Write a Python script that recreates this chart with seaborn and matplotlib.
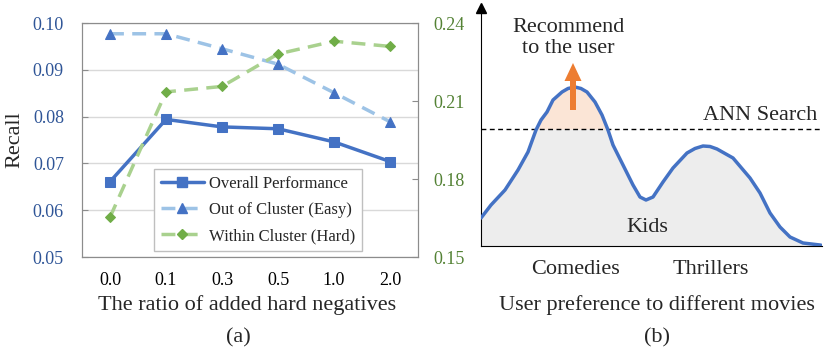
import numpy as np
import pandas as pd
import seaborn as sns
import matplotlib.pyplot as plt
from matplotlib.lines import Line2D

# ---- data ----
ratios = ['0.0', '0.1', '0.3', '0.5', '1.0', '2.0']
overall = [0.0661, 0.0794, 0.0778, 0.0774, 0.0746, 0.0704]
easy = [0.0977, 0.0977, 0.0945, 0.0912, 0.0851, 0.0789]
hard = [0.1653, 0.2135, 0.2156, 0.2281, 0.2330, 0.2310]

# schematic preference curve (b)
curve_x = [0, 10, 24, 37, 47, 55, 60, 66, 72, 81, 87, 94, 100, 106, 114, 121, 127, 132,
           142, 152, 159, 165, 172, 182, 192, 206, 214, 222, 229, 236, 252, 269, 279,
           289, 299, 309, 322, 339, 341]
curve_y = [28, 41, 56, 76, 94, 116, 126, 134, 146, 154, 157.5, 159, 157.5, 154, 144, 131,
           116, 101, 81, 61, 49, 46, 49, 64, 78, 93, 97.5, 100, 99.5, 97, 88, 68, 53,
           33, 19, 9, 3, 1, 0.5]
ann_level = 117
genres = ['Comedies', '', 'Thrillers']
genre_pos = [94, 165, 230]

BLUE = '#4472C4'
LIGHT_BLUE = '#9DC3E6'
GREEN = '#70AD47'
LIGHT_GREEN = '#A9D18E'
ORANGE = '#ED7D31'

sns.set_style('white')
plt.rcParams['font.family'] = ['Liberation Serif', 'DejaVu Serif']

fig = plt.figure(figsize=(8.3, 3.63), dpi=100)

# ---------------- (a) ----------------
ax = fig.add_axes([82 / 830, 1 - 257 / 363, 336 / 830, 234 / 363])
df = pd.DataFrame({'pos': np.arange(len(ratios)), 'overall': overall, 'easy': easy, 'hard': hard})

sns.lineplot(data=df, x='pos', y='overall', ax=ax, color=BLUE, lw=2.5,
             marker='s', markersize=6.5, markeredgecolor=BLUE, markerfacecolor=BLUE)
sns.lineplot(data=df, x='pos', y='easy', ax=ax, color=LIGHT_BLUE, lw=2.5,
             linestyle=(0, (4, 2.4)), marker='^', markersize=7,
             markeredgecolor=BLUE, markerfacecolor=BLUE)
ax.set_xlim(-0.5, 5.5)
ax.set_ylim(0.05, 0.10)
ax.set_yticks([0.05, 0.06, 0.07, 0.08, 0.09, 0.10])
ax.set_yticklabels([f'{v:.2f}' for v in [0.05, 0.06, 0.07, 0.08, 0.09, 0.10]])
ax.set_xticks(df['pos'], ratios)
ax.yaxis.grid(True, color='#d9d9d9', lw=1)
ax.set_xlabel('')
ax.set_ylabel('Recall', fontsize=16, labelpad=6)
ax.tick_params(axis='x', length=0, pad=11, labelsize=13, labelcolor='black')
ax.tick_params(axis='y', direction='in', length=4, color='#8c8c8c', pad=13,
               labelsize=13, labelcolor='#2F5597')
for s in ax.spines.values():
    s.set_color('#8c8c8c')

ax2 = ax.twinx()
sns.lineplot(data=df, x='pos', y='hard', ax=ax2, color=LIGHT_GREEN, lw=2.5,
             linestyle=(0, (4, 2.4)), marker='D', markersize=5.5,
             markeredgecolor=GREEN, markerfacecolor=GREEN)
ax2.set_ylim(0.15, 0.24)
ax2.set_yticks([0.15, 0.18, 0.21, 0.24])
ax2.set_yticklabels([f'{v:.2f}' for v in [0.15, 0.18, 0.21, 0.24]])
ax2.set_ylabel('')
ax2.tick_params(axis='y', direction='in', length=4, color='#8c8c8c', pad=11,
                labelsize=13, labelcolor='#548235')
for s in ax2.spines.values():
    s.set_color('#8c8c8c')

handles = [
    Line2D([], [], color=BLUE, lw=2.5, marker='s', markersize=6.5),
    Line2D([], [], color=LIGHT_BLUE, lw=2.5, linestyle=(0, (4, 2.4)), marker='^',
           markersize=7, markeredgecolor=BLUE, markerfacecolor=BLUE),
    Line2D([], [], color=LIGHT_GREEN, lw=2.5, linestyle=(0, (4, 2.4)), marker='D',
           markersize=5.5, markeredgecolor=GREEN, markerfacecolor=GREEN),
]
leg = ax2.legend(handles, ['Overall Performance', 'Out of Cluster (Easy)', 'Within Cluster (Hard)'],
                 loc='lower left', bbox_to_anchor=(0.214, 0.026), borderaxespad=0,
                 fontsize=12, frameon=True, fancybox=False, framealpha=1,
                 edgecolor='#bfbfbf', handlelength=2.6, handletextpad=0.3,
                 labelspacing=0.62, borderpad=0.4)
leg.get_frame().set_linewidth(1)

fig.text(247 / 830, 1 - 305 / 363, 'The ratio of added hard negatives', ha='center', va='center', fontsize=16)
fig.text(238 / 830, 1 - 338 / 363, '(a)', ha='center', va='center', fontsize=16)

# ---------------- (b) ----------------
bx = fig.add_axes([481 / 830, 1 - 246 / 363, 341 / 830, 238 / 363])
cx = np.array(curve_x, dtype=float)
cy = np.array(curve_y, dtype=float)
bx.fill_between(cx, 0, cy, color='#EDEDED', lw=0, zorder=1)
bx.fill_between(cx, ann_level, cy, where=cy >= ann_level, interpolate=True,
                color='#FBE5D6', lw=0, zorder=2)
sns.lineplot(x=cx, y=cy, ax=bx, sort=False, color=BLUE, lw=2.5, zorder=4)
bx.lines[-1].set_solid_joinstyle('round')
bx.axhline(ann_level, color='black', lw=1, linestyle=(0, (3.5, 2.5)), zorder=3)
bx.arrow(92, 136, 0, 47, width=6, head_width=17, head_length=18,
         length_includes_head=True, color=ORANGE, lw=0, zorder=5)

bx.set_xlim(0, 341)
bx.set_ylim(0, 238)
bx.set_yticks([])
bx.set_xticks(genre_pos, genres)
bx.tick_params(axis='x', direction='inout', length=14, width=1, color='black',
               pad=3, labelsize=16)
bx.spines['top'].set_visible(False)
bx.spines['right'].set_visible(False)
bx.spines['left'].set_color('black')
bx.spines['bottom'].set_color('black')
bx.plot(0, 1, marker='^', color='black', markersize=7, transform=bx.transAxes, clip_on=False)

bx.text(87, 208, 'Recommend\nto the user', ha='center', va='center', fontsize=16, linespacing=1.2)
bx.text(279, 131, 'ANN Search', ha='center', va='center', fontsize=16)
bx.text(166, 18, 'Kids', ha='center', va='center', fontsize=16)

fig.text(657 / 830, 1 - 305 / 363, 'User preference to different movies', ha='center', va='center', fontsize=16)
fig.text(657 / 830, 1 - 338 / 363, '(b)', ha='center', va='center', fontsize=16)

fig.savefig('out.png', dpi=100)
